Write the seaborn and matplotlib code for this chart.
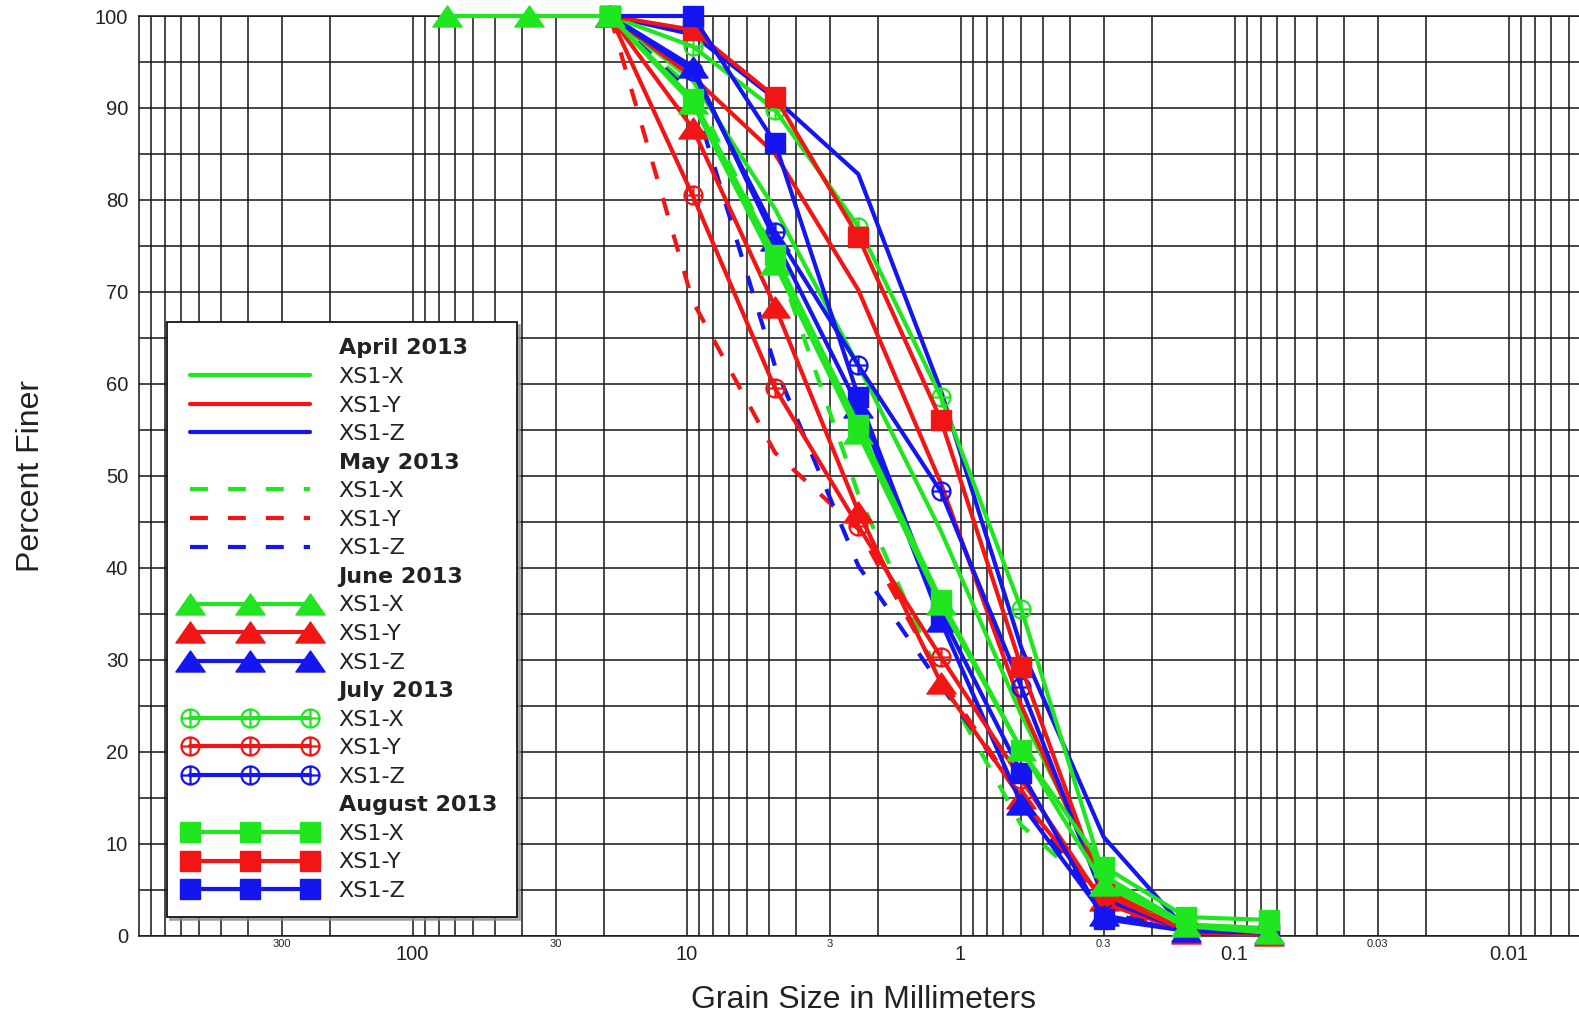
import numpy as np
import pandas as pd
import matplotlib
matplotlib.use("Agg")
import matplotlib.pyplot as plt
import seaborn as sns
from matplotlib.lines import Line2D
from matplotlib.path import Path
from matplotlib.ticker import FixedLocator, FixedFormatter, FuncFormatter
from matplotlib import font_manager as fm

# ---------------- DATA ----------------
# sieve openings (mm) and percent finer
sieve_mm = [19, 9.5, 4.75, 2.36, 1.18, 0.6, 0.3, 0.15, 0.075]
sieve_mm_long = [75, 37.5, 19, 9.5, 4.75, 2.36, 1.18, 0.6, 0.3, 0.15, 0.075]

april_x = [100, 93.0, 79.0, 62.0, 44.0, 24.0, 6.0, 1.0, 0.5]
april_y = [100, 93.4, 85.0, 70.2, 49.2, 25.0, 5.0, 0.5, 0.2]
april_z = [100, 98.0, 91.0, 82.8, 59.3, 31.3, 10.7, 0.6, 0.3]

may_x = [100, 92.0, 74.0, 48.0, 27.8, 12.0, 4.0, 1.0, 0.5]
may_y = [100, 69.0, 52.5, 44.2, 28.0, 15.0, 3.0, 0.5, 0.2]
may_z = [100, 91.4, 61.9, 40.2, 27.2, 15.0, 2.5, 0.5, 0.3]

june_x = [100, 100, 100, 90.5, 73.0, 54.6, 36.0, 20.2, 5.5, 1.0, 0.3]
june_y = [100, 87.8, 68.4, 46.1, 27.5, 14.9, 3.9, 0.3, 0.1]
june_z = [100, 94.5, 75.6, 57.5, 34.2, 14.3, 2.2, 0.5, 0.3]

july_x = [100, 96.7, 89.8, 77.1, 58.6, 35.5, 6.5, 1.2, 0.8]
july_y = [100, 80.5, 59.5, 44.5, 30.3, 17.0, 3.5, 0.5, 0.2]
july_z = [100, 94.0, 76.5, 62.0, 48.3, 27.0, 4.0, 0.5, 0.2]

aug_x = [100, 91.0, 74.0, 55.5, 36.5, 20.2, 7.5, 2.0, 1.7]
aug_y = [100, 98.5, 91.2, 76.0, 56.1, 29.2, 4.5, 0.5, 0.2]
aug_z = [100, 100, 86.2, 58.6, 35.0, 17.7, 1.8, 0.5, 0.3]

months = ["April 2013", "May 2013", "June 2013", "July 2013", "August 2013"]
sections = ["XS1-X", "XS1-Y", "XS1-Z"]

series = {
    ("April 2013", "XS1-X"): (sieve_mm, april_x),
    ("April 2013", "XS1-Y"): (sieve_mm, april_y),
    ("April 2013", "XS1-Z"): (sieve_mm, april_z),
    ("May 2013", "XS1-X"): (sieve_mm, may_x),
    ("May 2013", "XS1-Y"): (sieve_mm, may_y),
    ("May 2013", "XS1-Z"): (sieve_mm, may_z),
    ("June 2013", "XS1-X"): (sieve_mm_long, june_x),
    ("June 2013", "XS1-Y"): (sieve_mm, june_y),
    ("June 2013", "XS1-Z"): (sieve_mm, june_z),
    ("July 2013", "XS1-X"): (sieve_mm, july_x),
    ("July 2013", "XS1-Y"): (sieve_mm, july_y),
    ("July 2013", "XS1-Z"): (sieve_mm, july_z),
    ("August 2013", "XS1-X"): (sieve_mm, aug_x),
    ("August 2013", "XS1-Y"): (sieve_mm, aug_y),
    ("August 2013", "XS1-Z"): (sieve_mm, aug_z),
}

major_ticks = [100, 10, 1, 0.1, 0.01]
major_labels = ["100", "10", "1", "0.1", "0.01"]

# ---------------- STYLE ----------------
colors = {"XS1-X": "#1fe61f", "XS1-Y": "#f21515", "XS1-Z": "#1515f0"}

tri = Path([(0, 0.72), (-1, -0.72), (1, -0.72), (0, 0.72)],
           [Path.MOVETO, Path.LINETO, Path.LINETO, Path.CLOSEPOLY])
cross = Path([(-1, 0), (1, 0), (0, -1), (0, 1)],
             [Path.MOVETO, Path.LINETO, Path.MOVETO, Path.LINETO])
oplus = Path.make_compound_path(Path.unit_circle(), cross)

month_style = {
    "April 2013": dict(marker=None, linestyle="-"),
    "May 2013": dict(marker=None, linestyle=(0, (4.3, 4.8))),
    "June 2013": dict(marker=tri, markersize=21, linestyle="-"),
    "July 2013": dict(marker=oplus, markersize=13, linestyle="-", open=True),
    "August 2013": dict(marker="s", markersize=14, linestyle="-"),
}

# drawing order tweaks so the green marks sit on top where they do in the original
top_layer = {("June 2013", "XS1-X"): 6, ("August 2013", "XS1-X"): 4}


def line_kws(month, sec):
    st = dict(month_style[month])
    c = colors[sec]
    is_open = st.pop("open", False)
    kw = dict(color=c, linewidth=3, markeredgecolor=c,
              markerfacecolor="none" if is_open else c,
              markeredgewidth=1.6 if is_open else 1.0)
    kw.update(st)
    return kw


def has_font(name):
    try:
        fm.findfont(fm.FontProperties(family=name), fallback_to_default=False)
        return True
    except ValueError:
        return False


sns.set_theme(style="white")
if has_font("Liberation Sans Narrow"):
    tick_family, tick_size = "Liberation Sans Narrow", 17.5
else:
    tick_family, tick_size = "Liberation Sans", 14.5
plt.rcParams["font.family"] = [tick_family, "DejaVu Sans"]

# ---------------- PLOT ----------------
fig = plt.figure(figsize=(15.79, 10.16), dpi=100)
ax = fig.add_axes([138.5 / 1579, 80.5 / 1016, 1 - 138.5 / 1579, 919.5 / 1016])

for (month, sec), (xs, ys) in series.items():
    df = pd.DataFrame({"size": xs, "finer": ys})
    z = top_layer.get((month, sec), 3)
    sns.lineplot(data=df, x="size", y="finer", ax=ax, errorbar=None,
                 sort=False, clip_on=False, zorder=z, **line_kws(month, sec))

ax.set_xscale("log")
ax.set_xlim(1000, 0.00553)
ax.set_ylim(0, 100)

minor_ticks = [k * 10.0 ** e for e in range(-3, 3) for k in range(2, 10)]
ax.xaxis.set_major_locator(FixedLocator(major_ticks))
ax.xaxis.set_major_formatter(FixedFormatter(major_labels))
ax.xaxis.set_minor_locator(FixedLocator(minor_ticks))


def minor_fmt(v, pos):
    e = np.floor(np.log10(v) + 1e-9)
    return f"{v:g}" if round(v / 10 ** e) == 3 else ""


ax.xaxis.set_minor_formatter(FuncFormatter(minor_fmt))
ax.set_yticks(np.arange(0, 101, 10))
ax.set_yticks(np.arange(5, 100, 10), minor=True)

ax.set_axisbelow(True)
ax.grid(True, which="both", axis="both", color="#151515", linewidth=1.1)
for side in ["left", "bottom", "top"]:
    ax.spines[side].set_color("#151515")
    ax.spines[side].set_linewidth(1.1)
ax.spines["right"].set_visible(False)

ax.tick_params(which="both", length=0)
ax.tick_params(axis="x", which="major", labelsize=tick_size, pad=7, colors="#222222")
ax.tick_params(axis="x", which="minor", labelsize=8, pad=2.5, colors="#222222")
ax.tick_params(axis="y", which="major", labelsize=tick_size, pad=7.5, colors="#222222")

ax.set_xlabel("Grain Size in Millimeters", fontsize=23, family="Liberation Sans", color="#222222")
ax.set_ylabel("Percent Finer", fontsize=23, family="Liberation Sans", color="#222222")
ax.xaxis.label.set_va("baseline")
ax.xaxis.set_label_coords(0.503, -0.0788)
ax.yaxis.label.set_va("baseline")
ax.yaxis.set_label_coords(-0.0691, 0.5)

# ---------------- LEGEND ----------------
handles, labels = [], []
for month in months:
    handles.append(Line2D([], [], color="none"))
    labels.append(month)
    for sec in sections:
        handles.append(Line2D([], [], **line_kws(month, sec)))
        labels.append(sec)

leg = ax.legend(handles, labels, loc="lower left",
                bbox_to_anchor=((167 - 138.5) / 1440.5, (935.5 - 917) / 919.5,
                                (517 - 167) / 1440.5, 0.3),
                mode="expand", numpoints=3, handlelength=6.0, handletextpad=1.0,
                labelspacing=0.385, borderpad=0.72, borderaxespad=0,
                frameon=True, fancybox=False, framealpha=1,
                shadow={"color": "0.55", "alpha": 0.7},
                prop={"family": "DejaVu Sans", "size": 16})
leg.get_frame().set_edgecolor("#151515")
leg.get_frame().set_linewidth(1.3)
leg.set_zorder(10)
for t in leg.get_texts():
    t.set_color("#222222")
    if t.get_text() in months:
        t.set_fontweight("bold")

fig.savefig("out.png", dpi=100)
